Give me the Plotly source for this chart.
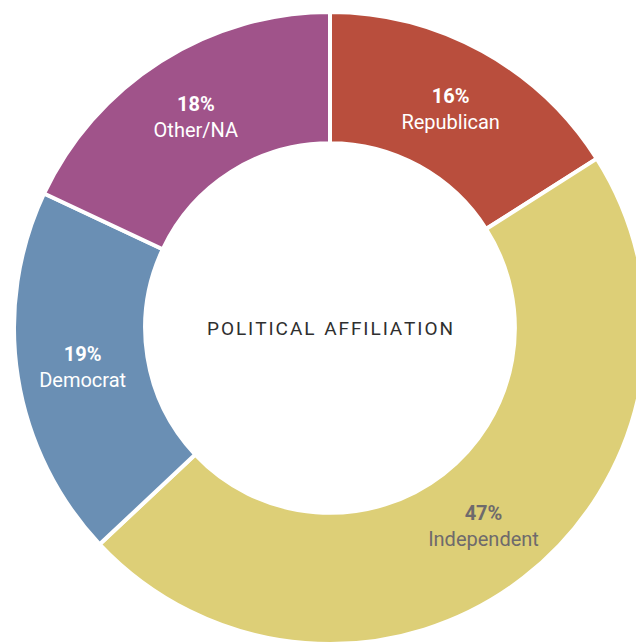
import plotly.graph_objects as go

# Survey breakdown by political affiliation
labels = ["Republican", "Independent", "Democrat", "Other/NA"]
values = [16, 47, 19, 18]
colors = ["#B94E3D", "#DDCF77", "#6A8FB4", "#A0538A"]
text_colors = ["white", "#6E6A6C", "white", "white"]
center_title = "POLITICAL AFFILIATION"

W, H = 660, 660
cx, cy, r = 330, 328, 316

fig = go.Figure(
    go.Pie(
        labels=labels,
        values=values,
        sort=False,
        direction="clockwise",
        rotation=0,
        hole=0.585,
        marker=dict(colors=colors, line=dict(color="white", width=4)),
        texttemplate="<b>%{percent:.0%}</b><br>%{label}",
        textposition="inside",
        insidetextorientation="horizontal",
        textfont=dict(color=text_colors, size=20, family="Roboto, sans-serif"),
        hoverinfo="label+percent",
        showlegend=False,
        domain=dict(x=[(cx - r) / W, (cx + r) / W],
                    y=[1 - (cy + r) / H, 1 - (cy - r) / H]),
    )
)

spaced = "\u200a".join(center_title).replace("\u200a \u200a", "\u2002")
fig.add_annotation(
    x=cx / W, y=1 - cy / H, xref="paper", yref="paper",
    text=spaced, showarrow=False,
    font=dict(size=19, color="#2F2F2F", family="Roboto, sans-serif"),
)

fig.update_layout(
    width=W, height=H,
    margin=dict(l=0, r=0, t=0, b=0),
    paper_bgcolor="white",
    plot_bgcolor="white",
)

fig.write_html(
    "out.html",
    post_script="document.body.style.overflow='hidden';document.body.style.margin='0';",
)
